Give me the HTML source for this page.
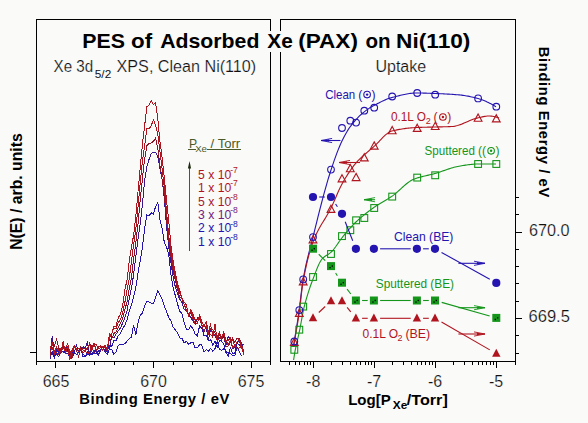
<!DOCTYPE html>
<html><head><meta charset="utf-8"><style>
html,body{margin:0;padding:0;background:#fafaf9;}
svg{display:block;font-family:'Liberation Sans', sans-serif;}
</style></head><body>
<svg width="588" height="423" viewBox="0 0 588 423">
<rect width="588" height="423" fill="#fafaf9"/>
<g shape-rendering="crispEdges">
<line x1="36" y1="19.5" x2="271" y2="19.5" stroke="#000" stroke-width="1"/>
<line x1="36.5" y1="19" x2="36.5" y2="365" stroke="#000" stroke-width="1"/>
<line x1="270.5" y1="19" x2="270.5" y2="365" stroke="#000" stroke-width="1"/>
<line x1="36" y1="361.5" x2="271" y2="361.5" stroke="#000" stroke-width="1"/>
<line x1="30" y1="352.5" x2="36" y2="352.5" stroke="#000" stroke-width="1"/>
<line x1="55.5" y1="362" x2="55.5" y2="368" stroke="#000" stroke-width="1"/>
<line x1="75.5" y1="362" x2="75.5" y2="365" stroke="#000" stroke-width="1"/>
<line x1="94.5" y1="362" x2="94.5" y2="365" stroke="#000" stroke-width="1"/>
<line x1="114.5" y1="362" x2="114.5" y2="365" stroke="#000" stroke-width="1"/>
<line x1="133.5" y1="362" x2="133.5" y2="365" stroke="#000" stroke-width="1"/>
<line x1="153.5" y1="362" x2="153.5" y2="368" stroke="#000" stroke-width="1"/>
<line x1="173.5" y1="362" x2="173.5" y2="365" stroke="#000" stroke-width="1"/>
<line x1="192.5" y1="362" x2="192.5" y2="365" stroke="#000" stroke-width="1"/>
<line x1="212.5" y1="362" x2="212.5" y2="365" stroke="#000" stroke-width="1"/>
<line x1="231.5" y1="362" x2="231.5" y2="365" stroke="#000" stroke-width="1"/>
<line x1="251.5" y1="362" x2="251.5" y2="368" stroke="#000" stroke-width="1"/>
<line x1="280" y1="19.5" x2="516" y2="19.5" stroke="#000" stroke-width="1"/>
<line x1="280.5" y1="19" x2="280.5" y2="362" stroke="#000" stroke-width="1"/>
<line x1="515.5" y1="19" x2="515.5" y2="365" stroke="#000" stroke-width="1"/>
<line x1="280" y1="361.5" x2="516" y2="361.5" stroke="#000" stroke-width="1"/>
<line x1="289.5" y1="362" x2="289.5" y2="365" stroke="#000" stroke-width="1"/>
<line x1="295.5" y1="362" x2="295.5" y2="365" stroke="#000" stroke-width="1"/>
<line x1="299.5" y1="362" x2="299.5" y2="365" stroke="#000" stroke-width="1"/>
<line x1="304.5" y1="362" x2="304.5" y2="365" stroke="#000" stroke-width="1"/>
<line x1="307.5" y1="362" x2="307.5" y2="365" stroke="#000" stroke-width="1"/>
<line x1="310.5" y1="362" x2="310.5" y2="365" stroke="#000" stroke-width="1"/>
<line x1="313.5" y1="362" x2="313.5" y2="368" stroke="#000" stroke-width="1"/>
<line x1="331.5" y1="362" x2="331.5" y2="365" stroke="#000" stroke-width="1"/>
<line x1="342.5" y1="362" x2="342.5" y2="365" stroke="#000" stroke-width="1"/>
<line x1="350.5" y1="362" x2="350.5" y2="365" stroke="#000" stroke-width="1"/>
<line x1="356.5" y1="362" x2="356.5" y2="365" stroke="#000" stroke-width="1"/>
<line x1="360.5" y1="362" x2="360.5" y2="365" stroke="#000" stroke-width="1"/>
<line x1="365.5" y1="362" x2="365.5" y2="365" stroke="#000" stroke-width="1"/>
<line x1="368.5" y1="362" x2="368.5" y2="365" stroke="#000" stroke-width="1"/>
<line x1="371.5" y1="362" x2="371.5" y2="365" stroke="#000" stroke-width="1"/>
<line x1="374.5" y1="362" x2="374.5" y2="368" stroke="#000" stroke-width="1"/>
<line x1="392.5" y1="362" x2="392.5" y2="365" stroke="#000" stroke-width="1"/>
<line x1="403.5" y1="362" x2="403.5" y2="365" stroke="#000" stroke-width="1"/>
<line x1="411.5" y1="362" x2="411.5" y2="365" stroke="#000" stroke-width="1"/>
<line x1="417.5" y1="362" x2="417.5" y2="365" stroke="#000" stroke-width="1"/>
<line x1="421.5" y1="362" x2="421.5" y2="365" stroke="#000" stroke-width="1"/>
<line x1="425.5" y1="362" x2="425.5" y2="365" stroke="#000" stroke-width="1"/>
<line x1="429.5" y1="362" x2="429.5" y2="365" stroke="#000" stroke-width="1"/>
<line x1="432.5" y1="362" x2="432.5" y2="365" stroke="#000" stroke-width="1"/>
<line x1="435.5" y1="362" x2="435.5" y2="368" stroke="#000" stroke-width="1"/>
<line x1="453.5" y1="362" x2="453.5" y2="365" stroke="#000" stroke-width="1"/>
<line x1="464.5" y1="362" x2="464.5" y2="365" stroke="#000" stroke-width="1"/>
<line x1="472.5" y1="362" x2="472.5" y2="365" stroke="#000" stroke-width="1"/>
<line x1="478.5" y1="362" x2="478.5" y2="365" stroke="#000" stroke-width="1"/>
<line x1="482.5" y1="362" x2="482.5" y2="365" stroke="#000" stroke-width="1"/>
<line x1="486.5" y1="362" x2="486.5" y2="365" stroke="#000" stroke-width="1"/>
<line x1="490.5" y1="362" x2="490.5" y2="365" stroke="#000" stroke-width="1"/>
<line x1="493.5" y1="362" x2="493.5" y2="365" stroke="#000" stroke-width="1"/>
<line x1="496.5" y1="362" x2="496.5" y2="368" stroke="#000" stroke-width="1"/>
<line x1="516" y1="197.5" x2="519" y2="197.5" stroke="#000" stroke-width="1"/>
<line x1="516" y1="214.5" x2="519" y2="214.5" stroke="#000" stroke-width="1"/>
<line x1="516" y1="232.5" x2="522" y2="232.5" stroke="#000" stroke-width="1"/>
<line x1="516" y1="249.5" x2="519" y2="249.5" stroke="#000" stroke-width="1"/>
<line x1="516" y1="266.5" x2="519" y2="266.5" stroke="#000" stroke-width="1"/>
<line x1="516" y1="283.5" x2="519" y2="283.5" stroke="#000" stroke-width="1"/>
<line x1="516" y1="301.5" x2="519" y2="301.5" stroke="#000" stroke-width="1"/>
<line x1="516" y1="318.5" x2="522" y2="318.5" stroke="#000" stroke-width="1"/>
<line x1="516" y1="335.5" x2="519" y2="335.5" stroke="#000" stroke-width="1"/>
<line x1="516" y1="353.5" x2="519" y2="353.5" stroke="#000" stroke-width="1"/>
</g>
<rect x="80" y="31" width="394" height="21" fill="#fafaf9"/>
<text x="82.2" y="48.3" font-size="21" fill="#000" font-weight="bold" textLength="42.7" lengthAdjust="spacingAndGlyphs">PES</text>
<text x="131" y="48.3" font-size="21" fill="#000" font-weight="bold" textLength="21.1" lengthAdjust="spacingAndGlyphs">of</text>
<text x="160.2" y="48.3" font-size="21" fill="#000" font-weight="bold" textLength="99.2" lengthAdjust="spacingAndGlyphs">Adsorbed</text>
<text x="267.3" y="48.3" font-size="21" fill="#000" font-weight="bold" textLength="25.4" lengthAdjust="spacingAndGlyphs">Xe</text>
<text x="298.2" y="48.3" font-size="21" fill="#000" font-weight="bold" textLength="59.7" lengthAdjust="spacingAndGlyphs">(PAX)</text>
<text x="365.5" y="48.3" font-size="21" fill="#000" font-weight="bold" textLength="25.1" lengthAdjust="spacingAndGlyphs">on</text>
<text x="396.1" y="48.3" font-size="21" fill="#000" font-weight="bold" textLength="74.3" lengthAdjust="spacingAndGlyphs">Ni(110)</text>
<text x="53.6" y="72" font-size="16" fill="#101010" textLength="39.6" lengthAdjust="spacingAndGlyphs" stroke="#fafaf9" stroke-width="0.2">Xe 3d</text>
<text x="94.8" y="77.6" font-size="10.8" fill="#101010" textLength="16.4" lengthAdjust="spacingAndGlyphs">5/2</text>
<text x="116.6" y="72" font-size="16" fill="#101010" textLength="139.6" lengthAdjust="spacingAndGlyphs" stroke="#fafaf9" stroke-width="0.2">XPS, Clean Ni(110)</text>
<text x="375.4" y="72" font-size="16" fill="#101010" textLength="50.8" lengthAdjust="spacingAndGlyphs" stroke="#fafaf9" stroke-width="0.2">Uptake</text>
<text x="79.2" y="403.9" font-size="14.8" fill="#000" font-weight="bold" textLength="150.2" lengthAdjust="spacing">Binding Energy / eV</text>
<text x="348.2" y="404.5" font-size="15" fill="#000" font-weight="bold" textLength="42.6" lengthAdjust="spacingAndGlyphs">Log[P</text>
<text x="392.8" y="408.6" font-size="11" fill="#000" font-weight="bold" textLength="14.5" lengthAdjust="spacingAndGlyphs">Xe</text>
<text x="406.8" y="404.5" font-size="15" fill="#000" font-weight="bold" textLength="41" lengthAdjust="spacingAndGlyphs">/Torr]</text>
<text transform="translate(22,249.8) rotate(-90)" font-size="16" font-weight="bold" textLength="116.5" lengthAdjust="spacingAndGlyphs">N(E) / arb. units</text>
<text transform="translate(538.8,46.8) rotate(90)" font-size="14.8" font-weight="bold" textLength="150.5" lengthAdjust="spacing">Binding Energy / eV</text>
<text x="56" y="386.6" font-size="16" fill="#101010" text-anchor="middle" stroke="#fafaf9" stroke-width="0.2">665</text>
<text x="153.5" y="386.6" font-size="16" fill="#101010" text-anchor="middle" stroke="#fafaf9" stroke-width="0.2">670</text>
<text x="251" y="386.6" font-size="16" fill="#101010" text-anchor="middle" stroke="#fafaf9" stroke-width="0.2">675</text>
<text x="313.2" y="386.6" font-size="16" fill="#101010" text-anchor="middle" stroke="#fafaf9" stroke-width="0.2">-8</text>
<text x="374.15" y="386.6" font-size="16" fill="#101010" text-anchor="middle" stroke="#fafaf9" stroke-width="0.2">-7</text>
<text x="435.1" y="386.6" font-size="16" fill="#101010" text-anchor="middle" stroke="#fafaf9" stroke-width="0.2">-6</text>
<text x="496.05" y="386.6" font-size="16" fill="#101010" text-anchor="middle" stroke="#fafaf9" stroke-width="0.2">-5</text>
<text x="529" y="235.6" font-size="16" fill="#101010" textLength="40.6" lengthAdjust="spacingAndGlyphs" stroke="#fafaf9" stroke-width="0.2">670.0</text>
<text x="528.5" y="321.8" font-size="16" fill="#101010" textLength="41.4" lengthAdjust="spacingAndGlyphs" stroke="#fafaf9" stroke-width="0.2">669.5</text>
<text x="189" y="147.8" font-size="12.2" fill="#4a5a28">P</text>
<text x="195.2" y="152.2" font-size="8.8" fill="#4a5a28" textLength="11.8" lengthAdjust="spacingAndGlyphs">Xe</text>
<text x="210.6" y="147.8" font-size="12.2" fill="#4a5a28" textLength="29.6" lengthAdjust="spacingAndGlyphs">/ Torr</text>
<g shape-rendering="crispEdges">
<line x1="188" y1="149.5" x2="195.5" y2="149.5" stroke="#4a5a28" stroke-width="1"/>
<line x1="207" y1="149.5" x2="240.5" y2="149.5" stroke="#4a5a28" stroke-width="1"/>
<line x1="189.5" y1="163" x2="189.5" y2="251" stroke="#4a5a28" stroke-width="1"/>
</g>
<path d="M189.5 161 L187.9 168.5 L191.1 168.5 Z" fill="#1e2a10"/>
<text x="198" y="178.6" font-size="12.2" fill="#b0141e" textLength="33.2" lengthAdjust="spacingAndGlyphs">5 x 10</text>
<text x="230.2" y="173" font-size="9" fill="#b0141e" textLength="7.6" lengthAdjust="spacingAndGlyphs">-7</text>
<text x="198" y="192.05" font-size="12.2" fill="#b0141e" textLength="33.2" lengthAdjust="spacingAndGlyphs">1 x 10</text>
<text x="230.2" y="186.45" font-size="9" fill="#b0141e" textLength="7.6" lengthAdjust="spacingAndGlyphs">-7</text>
<text x="198" y="205.5" font-size="12.2" fill="#a41830" textLength="33.2" lengthAdjust="spacingAndGlyphs">5 x 10</text>
<text x="230.2" y="199.9" font-size="9" fill="#a41830" textLength="7.6" lengthAdjust="spacingAndGlyphs">-8</text>
<text x="198" y="218.95" font-size="12.2" fill="#702080" textLength="33.2" lengthAdjust="spacingAndGlyphs">3 x 10</text>
<text x="230.2" y="213.35" font-size="9" fill="#702080" textLength="7.6" lengthAdjust="spacingAndGlyphs">-8</text>
<text x="198" y="232.4" font-size="12.2" fill="#2414b0" textLength="33.2" lengthAdjust="spacingAndGlyphs">2 x 10</text>
<text x="230.2" y="226.8" font-size="9" fill="#2414b0" textLength="7.6" lengthAdjust="spacingAndGlyphs">-8</text>
<text x="198" y="245.85" font-size="12.2" fill="#2414b0" textLength="33.2" lengthAdjust="spacingAndGlyphs">1 x 10</text>
<text x="230.2" y="240.25" font-size="9" fill="#2414b0" textLength="7.6" lengthAdjust="spacingAndGlyphs">-8</text>
<polyline points="50,356.6 52.2,353.02 54.4,357.67 56.6,350.38 58.8,351.26 61,350.93 63.2,351.39 65.4,352.42 67.6,353.93 69.8,352.72 72,358.45 74.2,352.09 76.4,354.72 78.6,351.42 80.8,349.97 83,353.83 85.2,356.49 87.4,351.94 89.6,354.14 91.8,354.87 94,350.23 96.2,350.75 98.4,355.21 100.6,349.97 102.8,346.48 105,351.39 107.2,354.58 109.4,349.49 111.6,349.08 113.8,354.26 116,351.93 118.2,345.67 120.4,344.07 122.6,344.84 124.8,343.75 127,341.27 129.2,338.53 131.4,337.48 133.6,325.22 135.8,334.84 138,322.77 140.2,315.14 142.4,312.98 144.6,305.9 146.8,301.69 149,301.93 151.2,303.36 153.4,303.61 155.6,296.77 157.8,290.74 160,294.72 162.2,299.29 164.4,306.01 166.6,311.86 168.8,317.6 171,321.28 173.2,327.14 175.4,330.05 177.6,332.94 179.8,337.98 182,338.56 184.2,342.96 186.4,341.27 188.6,344.42 190.8,342.86 193,341.86 195.2,347.96 197.4,347.46 199.6,344.85 201.8,345.02 204,352.22 206.2,349.61 208.4,351.13 210.6,348.5 212.8,351.27 215,348.63 217.2,341.42 219.4,349.13 221.6,350.55 223.8,348.66 226,351.48 228.2,356.69 230.4,347.78 232.6,353.48 234.8,353.69 237,342.01 239.2,345.66 241.4,342.74 243.6,352.4" fill="none" stroke="#2414b0" stroke-width="1.0" shape-rendering="crispEdges"/>
<polyline points="50,356.47 52.2,351.84 54.4,355.79 56.6,353.89 58.8,356.84 61,348 63.2,346.67 65.4,347.41 67.6,350.19 69.8,359.5 72,352.32 74.2,353 76.4,345.35 78.6,351.33 80.8,347.27 83,357.07 85.2,355.69 87.4,354.66 89.6,353.45 91.8,353.63 94,354.1 96.2,353.37 98.4,351.03 100.6,350.28 102.8,349.02 105,350.06 107.2,351.88 109.4,345.21 111.6,346.74 113.8,340.46 116,340.88 118.2,335.77 120.4,333.7 122.6,328.56 124.8,325.38 127,319.78 129.2,310.97 131.4,304.77 133.6,297.18 135.8,287.21 138,273.3 140.2,260.6 142.4,247.51 144.6,228.9 146.8,215.14 149,216.17 151.2,212.75 153.4,214.03 155.6,206.45 157.8,202.63 160,219.56 162.2,229.1 164.4,243 166.6,247.04 168.8,255.15 171,275.42 173.2,288.2 175.4,295.82 177.6,304.14 179.8,311.48 182,313.56 184.2,322.44 186.4,329.44 188.6,329.56 190.8,325.78 193,328.62 195.2,334.07 197.4,335.78 199.6,325.97 201.8,328.11 204,335.45 206.2,335.42 208.4,340.79 210.6,339.53 212.8,345.18 215,340.79 217.2,347.47 219.4,340.76 221.6,341.13 223.8,344.58 226,352.97 228.2,352.76 230.4,353.5 232.6,355.95 234.8,355.84 237,347.02 239.2,351.18 241.4,356.15" fill="none" stroke="#2414b0" stroke-width="1.0" shape-rendering="crispEdges"/>
<polyline points="50,359.39 52.2,335.66 54.4,353.74 56.6,349.14 58.8,353.32 61,350.65 63.2,352.16 65.4,349.35 67.6,346.43 69.8,357.06 72,351.22 74.2,347.6 76.4,348 78.6,350.37 80.8,349.56 83,346.72 85.2,348.49 87.4,342.46 89.6,355.6 91.8,347.18 94,352.12 96.2,351.19 98.4,353.93 100.6,350.55 102.8,347.06 105,351.65 107.2,346.38 109.4,348.71 111.6,336.87 113.8,338.05 116,334.35 118.2,330.72 120.4,327.93 122.6,323.33 124.8,317.66 127,310.97 129.2,298.61 131.4,288.61 133.6,274.79 135.8,256.54 138,239.1 140.2,223.66 142.4,205.05 144.6,180.82 146.8,167.19 149,159.59 151.2,153.59 153.4,152.02 155.6,152.02 157.8,156.51 160,168.7 162.2,179.85 164.4,198.88 166.6,227.64 168.8,247.3 171,263.27 173.2,277.23 175.4,287.18 177.6,293.92 179.8,299.32 182,302.39 184.2,309.63 186.4,310.68 188.6,315.16 190.8,317.18 193,321.34 195.2,323.86 197.4,317.61 199.6,318.81 201.8,322.37 204,324.77 206.2,327.27 208.4,339.69 210.6,329.55 212.8,332.26 215,335.9 217.2,339.38 219.4,338.3 221.6,336.16 223.8,337.03 226,345.14 228.2,336.79 230.4,338.55 232.6,348.67 234.8,347.27 237,341.92 239.2,340.65 241.4,343.98 243.6,345.01" fill="none" stroke="#3a1890" stroke-width="1.0" shape-rendering="crispEdges"/>
<polyline points="50,355.74 52.2,342.43 54.4,345.56 56.6,339.47 58.8,347.92 61,353.44 63.2,346.37 65.4,350.9 67.6,351.4 69.8,352.34 72,358.39 74.2,345.92 76.4,350 78.6,356.9 80.8,346.92 83,348.68 85.2,348.02 87.4,349.38 89.6,343.3 91.8,345.82 94,353.28 96.2,350.53 98.4,346.88 100.6,346.79 102.8,347.36 105,347.59 107.2,350.64 109.4,339.12 111.6,338.92 113.8,333.82 116,331.8 118.2,327.8 120.4,323.4 122.6,318.88 124.8,309.63 127,302.02 129.2,288.47 131.4,278.21 133.6,258.91 135.8,242.96 138,223.89 140.2,200.03 142.4,178.83 144.6,159.09 146.8,145.8 149,143.3 151.2,143.05 153.4,141.42 155.6,138.05 157.8,148.25 160,165.66 162.2,180.18 164.4,196.14 166.6,219.94 168.8,240.27 171,257.07 173.2,271.52 175.4,280.79 177.6,289.87 179.8,297.24 182,299 184.2,304.47 186.4,311.03 188.6,315.14 190.8,313.7 193,317.6 195.2,320.15 197.4,322.12 199.6,318.98 201.8,325.68 204,331.73 206.2,325.88 208.4,332.43 210.6,328.67 212.8,329.41 215,333.33 217.2,340.87 219.4,334.16 221.6,340.1 223.8,334.27 226,346.56 228.2,346.03 230.4,341.66 232.6,337.86 234.8,342.6 237,338.25 239.2,338.91 241.4,342.98 243.6,352.5" fill="none" stroke="#901428" stroke-width="1.0" shape-rendering="crispEdges"/>
<polyline points="50,348.87 52.2,342.57 54.4,351.92 56.6,347.22 58.8,350.76 61,352.01 63.2,341.6 65.4,352.54 67.6,346.18 69.8,359.5 72,352.17 74.2,347.01 76.4,349.45 78.6,348.74 80.8,348.35 83,352.81 85.2,351.4 87.4,353.66 89.6,352.22 91.8,347.34 94,342.89 96.2,344.82 98.4,348.33 100.6,347.81 102.8,350.67 105,345.22 107.2,349.04 109.4,338.32 111.6,334.33 113.8,328.12 116,329.01 118.2,322.71 120.4,319.43 122.6,312.82 124.8,302.78 127,290.04 129.2,278.71 131.4,261.92 133.6,244.73 135.8,229.68 138,206.9 140.2,182.93 142.4,160.81 144.6,146.15 146.8,128.27 149,128.75 151.2,125.83 153.4,119.83 155.6,125.09 157.8,134.18 160,152.14 162.2,169.85 164.4,187.88 166.6,212.76 168.8,236.46 171,251.65 173.2,266.18 175.4,276.24 177.6,287.24 179.8,293.57 182,298.31 184.2,304.35 186.4,309.59 188.6,314.55 190.8,311.38 193,318.54 195.2,324.44 197.4,323.62 199.6,315.16 201.8,321.72 204,326.16 206.2,321.46 208.4,331.53 210.6,324.59 212.8,335.38 215,334.08 217.2,337.21 219.4,332.27 221.6,337.85 223.8,333.61 226,340.21 228.2,345.31 230.4,340.1 232.6,339.53 234.8,345.94 237,348.17 239.2,348.04 241.4,346.03 243.6,354.6" fill="none" stroke="#b0141e" stroke-width="1.0" shape-rendering="crispEdges"/>
<polyline points="50,351.57 52.2,347.64 54.4,354 56.6,352.24 58.8,354.93 61,348.16 63.2,348.02 65.4,348.07 67.6,343.5 69.8,352.92 72,350.26 74.2,345.8 76.4,348.18 78.6,351.67 80.8,349.13 83,350.16 85.2,350.79 87.4,347.73 89.6,344.14 91.8,351.12 94,342.96 96.2,350.58 98.4,347.33 100.6,346.02 102.8,346.81 105,346 107.2,349.58 109.4,333.85 111.6,334.74 113.8,326.49 116,326 118.2,317.96 120.4,314.04 122.6,306.41 124.8,289.91 127,280.04 129.2,261.79 131.4,247.22 133.6,235.43 135.8,216 138,191.72 140.2,167.94 142.4,144.6 144.6,126.19 146.8,106.93 149,105.32 151.2,100.57 153.4,104.66 155.6,102.37 157.8,119.05 160,141.87 162.2,158.29 164.4,178.8 166.6,200.77 168.8,221.89 171,245.58 173.2,261.68 175.4,272.94 177.6,284.45 179.8,290.12 182,298.69 184.2,302.08 186.4,305.22 188.6,315.31 190.8,309.61 193,314.39 195.2,319.35 197.4,319.43 199.6,317.77 201.8,324.79 204,326.56 206.2,325.84 208.4,334.49 210.6,334.12 212.8,337.2 215,324.45 217.2,341.26 219.4,338.25 221.6,337.71 223.8,332.03 226,340.55 228.2,340.66 230.4,337.68 232.6,347.62 234.8,345.92 237,342.06 239.2,339.47 241.4,347.56 243.6,349.63" fill="none" stroke="#b0141e" stroke-width="1.0" shape-rendering="crispEdges"/>
<polyline points="293.6,346 294.87,337.86 296.15,329.96 297.42,321.99 298.69,313.57 299.96,304 301.24,292.97 302.51,283.17 303.78,275.87 305.06,269.37 306.33,263.49 307.6,258.08 308.88,252.99 310.15,248.09 311.42,243.21 312.69,238.23 313.97,233.08 315.24,227.93 316.51,222.81 317.79,217.71 319.06,212.66 320.33,207.67 321.61,202.75 322.88,197.92 324.15,193.19 325.42,188.57 326.7,184.07 327.97,179.72 329.24,175.52 330.52,171.49 331.79,167.61 333.06,163.83 334.33,160.16 335.61,156.6 336.88,153.16 338.15,149.88 339.43,146.76 340.7,143.81 341.97,141.06 343.25,138.46 344.52,135.99 345.79,133.65 347.06,131.45 348.34,129.41 349.61,127.54 350.88,125.82 352.16,124.17 353.43,122.59 354.7,121.08 355.97,119.63 357.25,118.26 358.52,116.94 359.79,115.69 361.07,114.5 362.34,113.38 363.61,112.31 364.89,111.31 366.16,110.36 367.43,109.46 368.7,108.61 369.98,107.81 371.25,107.04 372.52,106.31 373.8,105.61 375.07,104.93 376.34,104.25 377.62,103.57 378.89,102.91 380.16,102.26 381.43,101.63 382.71,101.02 383.98,100.43 385.25,99.87 386.53,99.34 387.8,98.85 389.07,98.39 390.34,97.97 391.62,97.6 392.89,97.27 394.16,96.93 395.44,96.6 396.71,96.27 397.98,95.94 399.26,95.62 400.53,95.32 401.8,95.02 403.07,94.73 404.35,94.46 405.62,94.21 406.89,93.97 408.17,93.76 409.44,93.57 410.71,93.4 411.98,93.26 413.26,93.15 414.53,93.07 415.8,93.02 417.08,93 418.35,93 419.62,93.02 420.9,93.04 422.17,93.06 423.44,93.09 424.71,93.13 425.99,93.17 427.26,93.21 428.53,93.25 429.81,93.3 431.08,93.35 432.35,93.4 433.63,93.45 434.9,93.5 436.17,93.54 437.44,93.59 438.72,93.65 439.99,93.7 441.26,93.76 442.54,93.81 443.81,93.88 445.08,93.94 446.35,94.01 447.63,94.08 448.9,94.15 450.17,94.23 451.45,94.32 452.72,94.4 453.99,94.5 455.27,94.59 456.54,94.69 457.81,94.8 459.08,94.92 460.36,95.03 461.63,95.17 462.9,95.33 464.18,95.51 465.45,95.7 466.72,95.92 467.99,96.15 469.27,96.4 470.54,96.67 471.81,96.95 473.09,97.24 474.36,97.55 475.63,97.87 476.91,98.21 478.18,98.55 479.45,98.92 480.72,99.34 482,99.79 483.27,100.28 484.54,100.8 485.82,101.35 487.09,101.94 488.36,102.55 489.64,103.19 490.91,103.85 492.18,104.53 493.45,105.24 494.73,105.96 496,106.7" fill="none" stroke="#2414b0" stroke-width="1.1"/>
<polyline points="293.4,347 294.69,339.78 295.99,332.59 297.28,325.22 298.57,317.23 299.87,307.81 301.16,296.07 302.45,285.54 303.74,278.16 305.04,271.5 306.33,265.42 307.62,259.9 308.92,254.88 310.21,250.35 311.5,246.25 312.8,242.55 314.09,239.2 315.38,236.14 316.68,233.33 317.97,230.73 319.26,228.3 320.55,226.01 321.85,223.83 323.14,221.7 324.43,219.6 325.73,217.5 327.02,215.34 328.31,213.1 329.61,210.73 330.9,208.2 332.19,205.49 333.49,202.62 334.78,199.66 336.07,196.66 337.36,193.67 338.66,190.76 339.95,187.99 341.24,185.4 342.54,183.04 343.83,180.78 345.12,178.58 346.42,176.44 347.71,174.37 349,172.37 350.3,170.45 351.59,168.61 352.88,166.86 354.17,165.19 355.47,163.62 356.76,162.14 358.05,160.74 359.35,159.4 360.64,158.13 361.93,156.9 363.23,155.72 364.52,154.58 365.81,153.46 367.11,152.37 368.4,151.28 369.69,150.2 370.98,149.11 372.28,148 373.57,146.88 374.86,145.71 376.16,144.46 377.45,143.14 378.74,141.78 380.04,140.41 381.33,139.04 382.62,137.7 383.92,136.41 385.21,135.2 386.5,134.08 387.79,133.09 389.09,132.25 390.38,131.57 391.67,131.09 392.97,130.76 394.26,130.46 395.55,130.17 396.85,129.9 398.14,129.65 399.43,129.41 400.73,129.18 402.02,128.97 403.31,128.77 404.61,128.59 405.9,128.42 407.19,128.27 408.48,128.13 409.78,128 411.07,127.88 412.36,127.78 413.66,127.69 414.95,127.61 416.24,127.54 417.54,127.48 418.83,127.42 420.12,127.38 421.42,127.34 422.71,127.3 424,127.26 425.29,127.23 426.59,127.2 427.88,127.17 429.17,127.14 430.47,127.11 431.76,127.08 433.05,127.05 434.35,127.02 435.64,126.98 436.93,126.95 438.23,126.92 439.52,126.89 440.81,126.86 442.1,126.83 443.4,126.8 444.69,126.77 445.98,126.73 447.28,126.69 448.57,126.65 449.86,126.6 451.16,126.54 452.45,126.47 453.74,126.33 455.04,126.12 456.33,125.83 457.62,125.48 458.91,125.08 460.21,124.63 461.5,124.14 462.79,123.62 464.09,123.07 465.38,122.51 466.67,121.95 467.97,121.38 469.26,120.83 470.55,120.29 471.85,119.77 473.14,119.29 474.43,118.85 475.72,118.45 477.02,118.11 478.31,117.82 479.6,117.51 480.9,117.21 482.19,116.91 483.48,116.64 484.78,116.4 486.07,116.2 487.36,116.07 488.66,116 489.95,116.02 491.24,116.11 492.53,116.27 493.83,116.5 495.12,116.79 496.41,117.14 497.71,117.54 499,118" fill="none" stroke="#b0141e" stroke-width="1.1"/>
<polyline points="293.6,360 294.87,351.94 296.15,345.68 297.42,340.14 298.69,334.68 299.96,328.67 301.24,321.73 302.51,314.65 303.78,308.48 305.06,303.46 306.33,298.84 307.6,294.55 308.88,290.56 310.15,286.8 311.42,283.25 312.69,279.84 313.97,276.52 315.24,273.16 316.51,269.86 317.79,266.72 319.06,263.87 320.33,261.42 321.61,259.48 322.88,258.08 324.15,256.98 325.42,256.07 326.7,255.26 327.97,254.49 329.24,253.66 330.52,252.7 331.79,251.52 333.06,250.11 334.33,248.52 335.61,246.79 336.88,244.98 338.15,243.12 339.43,241.27 340.7,239.48 341.97,237.78 343.25,236.22 344.52,234.67 345.79,233.15 347.06,231.64 348.34,230.15 349.61,228.69 350.88,227.27 352.16,225.89 353.43,224.55 354.7,223.26 355.97,222.02 357.25,220.83 358.52,219.67 359.79,218.54 361.07,217.43 362.34,216.35 363.61,215.3 364.89,214.26 366.16,213.25 367.43,212.26 368.7,211.29 369.98,210.33 371.25,209.4 372.52,208.47 373.8,207.57 375.07,206.67 376.34,205.82 377.62,204.99 378.89,204.19 380.16,203.42 381.43,202.66 382.71,201.91 383.98,201.17 385.25,200.42 386.53,199.67 387.8,198.9 389.07,198.12 390.34,197.31 391.62,196.47 392.89,195.58 394.16,194.63 395.44,193.6 396.71,192.53 397.98,191.41 399.26,190.26 400.53,189.09 401.8,187.93 403.07,186.77 404.35,185.64 405.62,184.54 406.89,183.49 408.17,182.51 409.44,181.6 410.71,180.77 411.98,180.05 413.26,179.44 414.53,178.94 415.8,178.47 417.08,178.04 418.35,177.64 419.62,177.27 420.9,176.92 422.17,176.6 423.44,176.28 424.71,175.98 425.99,175.69 427.26,175.4 428.53,175.12 429.81,174.82 431.08,174.52 432.35,174.21 433.63,173.89 434.9,173.54 436.17,173.17 437.44,172.78 438.72,172.38 439.99,171.95 441.26,171.52 442.54,171.07 443.81,170.62 445.08,170.18 446.35,169.73 447.63,169.29 448.9,168.86 450.17,168.45 451.45,168.05 452.72,167.67 453.99,167.32 455.27,166.99 456.54,166.7 457.81,166.44 459.08,166.22 460.36,166 461.63,165.79 462.9,165.57 464.18,165.36 465.45,165.16 466.72,164.97 467.99,164.78 469.27,164.61 470.54,164.46 471.81,164.33 473.09,164.21 474.36,164.12 475.63,164.05 476.91,164.01 478.18,164 479.45,164 480.72,164 482,164 483.27,164 484.54,164 485.82,164 487.09,164 488.36,164 489.64,164 490.91,164 492.18,164 493.45,164 494.73,164 496,164" fill="none" stroke="#14961a" stroke-width="1.1"/>
<rect x="290.9" y="346.4" width="6.8" height="6.8" fill="none" stroke="#14961a" stroke-width="1.1"/>
<rect x="295.9" y="326.3" width="6.8" height="6.8" fill="none" stroke="#14961a" stroke-width="1.1"/>
<rect x="299.8" y="303.2" width="6.8" height="6.8" fill="none" stroke="#14961a" stroke-width="1.1"/>
<rect x="309.6" y="273.6" width="6.8" height="6.8" fill="none" stroke="#14961a" stroke-width="1.1"/>
<rect x="327.6" y="250.6" width="6.8" height="6.8" fill="none" stroke="#14961a" stroke-width="1.1"/>
<rect x="338.6" y="232.7" width="6.8" height="6.8" fill="none" stroke="#14961a" stroke-width="1.1"/>
<rect x="346.9" y="226.8" width="6.8" height="6.8" fill="none" stroke="#14961a" stroke-width="1.1"/>
<rect x="352.7" y="216.9" width="6.8" height="6.8" fill="none" stroke="#14961a" stroke-width="1.1"/>
<rect x="360.9" y="214.6" width="6.8" height="6.8" fill="none" stroke="#14961a" stroke-width="1.1"/>
<rect x="370.8" y="204.6" width="6.8" height="6.8" fill="none" stroke="#14961a" stroke-width="1.1"/>
<rect x="388.8" y="193.2" width="6.8" height="6.8" fill="none" stroke="#14961a" stroke-width="1.1"/>
<rect x="413.8" y="174.2" width="6.8" height="6.8" fill="none" stroke="#14961a" stroke-width="1.1"/>
<rect x="431.8" y="171.9" width="6.8" height="6.8" fill="none" stroke="#14961a" stroke-width="1.1"/>
<rect x="474.7" y="160.6" width="6.8" height="6.8" fill="none" stroke="#14961a" stroke-width="1.1"/>
<rect x="492.9" y="160.6" width="6.8" height="6.8" fill="none" stroke="#14961a" stroke-width="1.1"/>
<path d="M294.3 338.18 L298.2 345.38 L290.4 345.38 Z" fill="none" stroke="#b0141e" stroke-width="1.1"/>
<path d="M299.3 309.18 L303.2 316.38 L295.4 316.38 Z" fill="none" stroke="#b0141e" stroke-width="1.1"/>
<path d="M303.2 277.68 L307.1 284.88 L299.3 284.88 Z" fill="none" stroke="#b0141e" stroke-width="1.1"/>
<path d="M313 235.68 L316.9 242.88 L309.1 242.88 Z" fill="none" stroke="#b0141e" stroke-width="1.1"/>
<path d="M331 205.18 L334.9 212.38 L327.1 212.38 Z" fill="none" stroke="#b0141e" stroke-width="1.1"/>
<path d="M342 174.68 L345.9 181.88 L338.1 181.88 Z" fill="none" stroke="#b0141e" stroke-width="1.1"/>
<path d="M350.3 164.48 L354.2 171.68 L346.4 171.68 Z" fill="none" stroke="#b0141e" stroke-width="1.1"/>
<path d="M356.1 173.38 L360 180.58 L352.2 180.58 Z" fill="none" stroke="#b0141e" stroke-width="1.1"/>
<path d="M364.3 153.68 L368.2 160.88 L360.4 160.88 Z" fill="none" stroke="#b0141e" stroke-width="1.1"/>
<path d="M374.2 141.88 L378.1 149.08 L370.3 149.08 Z" fill="none" stroke="#b0141e" stroke-width="1.1"/>
<path d="M392.2 126.48 L396.1 133.68 L388.3 133.68 Z" fill="none" stroke="#b0141e" stroke-width="1.1"/>
<path d="M417.2 124.18 L421.1 131.38 L413.3 131.38 Z" fill="none" stroke="#b0141e" stroke-width="1.1"/>
<path d="M435.2 122.28 L439.1 129.48 L431.3 129.48 Z" fill="none" stroke="#b0141e" stroke-width="1.1"/>
<path d="M478.1 113.98 L482 121.18 L474.2 121.18 Z" fill="none" stroke="#b0141e" stroke-width="1.1"/>
<path d="M496.3 114.68 L500.2 121.88 L492.4 121.88 Z" fill="none" stroke="#b0141e" stroke-width="1.1"/>
<circle cx="294.3" cy="341.5" r="3.35" fill="none" stroke="#2414b0" stroke-width="1.1"/>
<circle cx="299.3" cy="310.1" r="3.35" fill="none" stroke="#2414b0" stroke-width="1.1"/>
<circle cx="303.2" cy="279.4" r="3.35" fill="none" stroke="#2414b0" stroke-width="1.1"/>
<circle cx="313" cy="237.1" r="3.35" fill="none" stroke="#2414b0" stroke-width="1.1"/>
<circle cx="331" cy="169.6" r="3.35" fill="none" stroke="#2414b0" stroke-width="1.1"/>
<circle cx="342" cy="128" r="3.35" fill="none" stroke="#2414b0" stroke-width="1.1"/>
<circle cx="350.3" cy="120.7" r="3.35" fill="none" stroke="#2414b0" stroke-width="1.1"/>
<circle cx="356.1" cy="122.6" r="3.35" fill="none" stroke="#2414b0" stroke-width="1.1"/>
<circle cx="364.3" cy="110.7" r="3.35" fill="none" stroke="#2414b0" stroke-width="1.1"/>
<circle cx="374.2" cy="107.7" r="3.35" fill="none" stroke="#2414b0" stroke-width="1.1"/>
<circle cx="392.2" cy="96.5" r="3.35" fill="none" stroke="#2414b0" stroke-width="1.1"/>
<circle cx="417.2" cy="93" r="3.35" fill="none" stroke="#2414b0" stroke-width="1.1"/>
<circle cx="435.2" cy="94.7" r="3.35" fill="none" stroke="#2414b0" stroke-width="1.1"/>
<circle cx="478.1" cy="98.4" r="3.35" fill="none" stroke="#2414b0" stroke-width="1.1"/>
<circle cx="496.3" cy="106.7" r="3.35" fill="none" stroke="#2414b0" stroke-width="1.1"/>
<line x1="319.2" y1="197" x2="324.8" y2="197" stroke="#2414b0" stroke-width="1.1"/>
<line x1="335.59" y1="204.01" x2="337.41" y2="206.79" stroke="#2414b0" stroke-width="1.1"/>
<line x1="345.18" y1="221.81" x2="352.72" y2="240.79" stroke="#2414b0" stroke-width="1.1"/>
<line x1="380.1" y1="248.8" x2="410.7" y2="248.8" stroke="#2414b0" stroke-width="1.1"/>
<line x1="423.1" y1="248.8" x2="428.8" y2="248.8" stroke="#2414b0" stroke-width="1.1"/>
<line x1="441.52" y1="252.43" x2="489.78" y2="279.27" stroke="#2414b0" stroke-width="1.1"/>
<line x1="318.76" y1="254.27" x2="325.24" y2="260.53" stroke="#14961a" stroke-width="1.1"/>
<line x1="335.62" y1="273.07" x2="337.38" y2="275.73" stroke="#14961a" stroke-width="1.1"/>
<line x1="347.08" y1="289.2" x2="350.82" y2="294" stroke="#14961a" stroke-width="1.1"/>
<line x1="362.1" y1="300.5" x2="367.7" y2="300.5" stroke="#14961a" stroke-width="1.1"/>
<line x1="380.1" y1="300.5" x2="410.7" y2="300.5" stroke="#14961a" stroke-width="1.1"/>
<line x1="423.1" y1="300.5" x2="428.8" y2="300.5" stroke="#14961a" stroke-width="1.1"/>
<line x1="441.65" y1="302.39" x2="489.65" y2="316.01" stroke="#14961a" stroke-width="1.1"/>
<line x1="318.81" y1="312.52" x2="325.19" y2="306.48" stroke="#b0141e" stroke-width="1.1"/>
<line x1="347.15" y1="307.41" x2="350.75" y2="311.89" stroke="#b0141e" stroke-width="1.1"/>
<line x1="362.1" y1="318.3" x2="367.7" y2="318.3" stroke="#b0141e" stroke-width="1.1"/>
<line x1="380.1" y1="318.3" x2="410.7" y2="318.3" stroke="#b0141e" stroke-width="1.1"/>
<line x1="423.1" y1="318.3" x2="428.8" y2="318.3" stroke="#b0141e" stroke-width="1.1"/>
<line x1="441.5" y1="322.04" x2="489.8" y2="349.86" stroke="#b0141e" stroke-width="1.1"/>
<circle cx="313" cy="197" r="4.1" fill="#2414b0"/>
<circle cx="331" cy="197" r="4.1" fill="#2414b0"/>
<circle cx="342" cy="213.8" r="4.1" fill="#2414b0"/>
<circle cx="355.9" cy="248.8" r="4.1" fill="#2414b0"/>
<circle cx="373.9" cy="248.8" r="4.1" fill="#2414b0"/>
<circle cx="416.9" cy="248.8" r="4.1" fill="#2414b0"/>
<circle cx="435" cy="248.8" r="4.1" fill="#2414b0"/>
<circle cx="496.3" cy="282.9" r="4.1" fill="#2414b0"/>
<rect x="309" y="244.7" width="8" height="8" fill="#14961a"/>
<rect x="311.4" y="249.6" width="1.3" height="1.3" fill="#000"/><rect x="313.7" y="248" width="1.3" height="1.3" fill="#000"/>
<rect x="327" y="262.1" width="8" height="8" fill="#14961a"/>
<rect x="329.4" y="267" width="1.3" height="1.3" fill="#000"/><rect x="331.7" y="265.4" width="1.3" height="1.3" fill="#000"/>
<rect x="338" y="278.7" width="8" height="8" fill="#14961a"/>
<rect x="340.4" y="283.6" width="1.3" height="1.3" fill="#000"/><rect x="342.7" y="282" width="1.3" height="1.3" fill="#000"/>
<rect x="351.9" y="296.5" width="8" height="8" fill="#14961a"/>
<rect x="354.3" y="301.4" width="1.3" height="1.3" fill="#000"/><rect x="356.6" y="299.8" width="1.3" height="1.3" fill="#000"/>
<rect x="369.9" y="296.5" width="8" height="8" fill="#14961a"/>
<rect x="372.3" y="301.4" width="1.3" height="1.3" fill="#000"/><rect x="374.6" y="299.8" width="1.3" height="1.3" fill="#000"/>
<rect x="412.9" y="296.5" width="8" height="8" fill="#14961a"/>
<rect x="415.3" y="301.4" width="1.3" height="1.3" fill="#000"/><rect x="417.6" y="299.8" width="1.3" height="1.3" fill="#000"/>
<rect x="431" y="296.5" width="8" height="8" fill="#14961a"/>
<rect x="433.4" y="301.4" width="1.3" height="1.3" fill="#000"/><rect x="435.7" y="299.8" width="1.3" height="1.3" fill="#000"/>
<rect x="492.3" y="313.9" width="8" height="8" fill="#14961a"/>
<rect x="494.7" y="318.8" width="1.3" height="1.3" fill="#000"/><rect x="497" y="317.2" width="1.3" height="1.3" fill="#000"/>
<path d="M313 313.2 L317.2 321.2 L308.8 321.2 Z" fill="#b0141e"/>
<path d="M331 296.2 L335.2 304.2 L326.8 304.2 Z" fill="#b0141e"/>
<path d="M342 296.2 L346.2 304.2 L337.8 304.2 Z" fill="#b0141e"/>
<path d="M355.9 313.5 L360.1 321.5 L351.7 321.5 Z" fill="#b0141e"/>
<path d="M373.9 313.5 L378.1 321.5 L369.7 321.5 Z" fill="#b0141e"/>
<path d="M416.9 313.5 L421.1 321.5 L412.7 321.5 Z" fill="#b0141e"/>
<path d="M435 313.5 L439.2 321.5 L430.8 321.5 Z" fill="#b0141e"/>
<path d="M496.3 348.8 L500.5 356.8 L492.1 356.8 Z" fill="#b0141e"/>
<line x1="321.1" y1="140.5" x2="340.5" y2="140.5" stroke="#2414b0" stroke-width="1.1"/>
<path d="M332.1 138.4 L321.1 140.5 L332.1 142.6" fill="none" stroke="#2414b0" stroke-width="0.9"/>
<path d="M322.1 140.5 L329.1 139.3 L329.1 141.7 Z" fill="#2414b0"/>
<line x1="339" y1="162.5" x2="360" y2="162.5" stroke="#b0141e" stroke-width="1.1"/>
<path d="M350 160.4 L339 162.5 L350 164.6" fill="none" stroke="#b0141e" stroke-width="0.9"/>
<path d="M340 162.5 L347 161.3 L347 163.7 Z" fill="#b0141e"/>
<line x1="364" y1="199.7" x2="375" y2="199.7" stroke="#14961a" stroke-width="1.1"/>
<path d="M375 197.6 L364 199.7 L375 201.8" fill="none" stroke="#14961a" stroke-width="0.9"/>
<path d="M365 199.7 L372 198.5 L372 200.9 Z" fill="#14961a"/>
<line x1="458.4" y1="263.3" x2="485" y2="263.3" stroke="#2414b0" stroke-width="1.1"/>
<path d="M474 261.2 L485 263.3 L474 265.4" fill="none" stroke="#2414b0" stroke-width="0.9"/>
<path d="M484 263.3 L477 262.1 L477 264.5 Z" fill="#2414b0"/>
<line x1="458.4" y1="307.7" x2="485" y2="307.7" stroke="#14961a" stroke-width="1.1"/>
<path d="M474 305.6 L485 307.7 L474 309.8" fill="none" stroke="#14961a" stroke-width="0.9"/>
<path d="M484 307.7 L477 306.5 L477 308.9 Z" fill="#14961a"/>
<line x1="458.4" y1="334" x2="485" y2="334" stroke="#b0141e" stroke-width="1.1"/>
<path d="M474 331.9 L485 334 L474 336.1" fill="none" stroke="#b0141e" stroke-width="0.9"/>
<path d="M484 334 L477 332.8 L477 335.2 Z" fill="#b0141e"/>
<text x="325.2" y="98.8" font-size="12.2" fill="#2414b0" textLength="30" lengthAdjust="spacingAndGlyphs">Clean</text>
<text x="358.2" y="98.8" font-size="12.2" fill="#2414b0">(</text>
<circle cx="367.1" cy="94.6" r="3.3" fill="none" stroke="#2414b0" stroke-width="1.1"/><circle cx="367.1" cy="94.6" r="1.2" fill="#2414b0"/>
<text x="371.6" y="98.8" font-size="12.2" fill="#2414b0">)</text>
<text x="390.9" y="120.6" font-size="12.2" fill="#b0141e" textLength="35" lengthAdjust="spacingAndGlyphs">0.1L O</text>
<text x="425.8" y="124" font-size="9" fill="#b0141e">2</text>
<text x="433.6" y="120.6" font-size="12.2" fill="#b0141e">(</text>
<circle cx="442.9" cy="117" r="3.3" fill="none" stroke="#b0141e" stroke-width="1.1"/><circle cx="442.9" cy="117" r="1.2" fill="#b0141e"/>
<text x="447.2" y="120.6" font-size="12.2" fill="#b0141e">)</text>
<text x="424.5" y="154.5" font-size="12.2" fill="#14961a" textLength="50.4" lengthAdjust="spacingAndGlyphs">Sputtered</text>
<text x="478" y="154.5" font-size="12.2" fill="#14961a" textLength="8" lengthAdjust="spacingAndGlyphs">((</text>
<circle cx="491.1" cy="150.8" r="3.3" fill="none" stroke="#14961a" stroke-width="1.1"/><circle cx="491.1" cy="150.8" r="1.2" fill="#14961a"/>
<text x="495.6" y="154.5" font-size="12.2" fill="#14961a">)</text>
<text x="394" y="240.5" font-size="12.2" fill="#2414b0" textLength="59.4" lengthAdjust="spacingAndGlyphs">Clean (BE)</text>
<text x="375.8" y="287.9" font-size="12.2" fill="#14961a" textLength="78.2" lengthAdjust="spacingAndGlyphs">Sputtered (BE)</text>
<text x="362.6" y="337.5" font-size="12.2" fill="#b0141e" textLength="35.6" lengthAdjust="spacingAndGlyphs">0.1L O</text>
<text x="397.6" y="341" font-size="9" fill="#b0141e">2</text>
<text x="405.4" y="337.5" font-size="12.2" fill="#b0141e" textLength="24.8" lengthAdjust="spacingAndGlyphs">(BE)</text>
</svg></body></html>
